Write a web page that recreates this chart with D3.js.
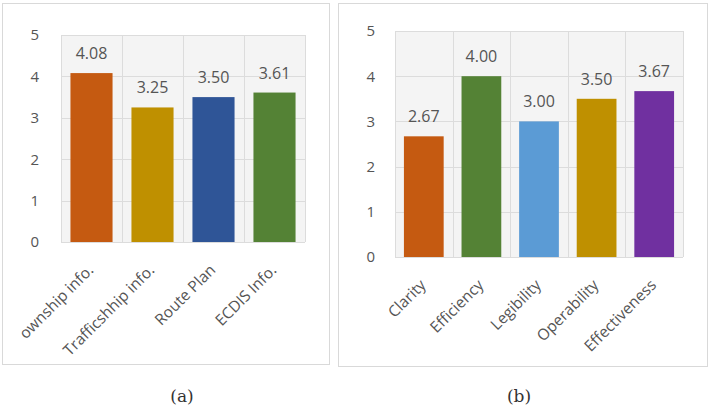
<!DOCTYPE html>
<html>
<head>
<meta charset="utf-8">
<script src="https://cdn.jsdelivr.net/npm/d3@7"></script>
<style>
  body { margin: 0; background: #fff; }
  svg { display: block; }
</style>
</head>
<body>
<svg id="chart" width="716" height="406"></svg>
<script>
// data
var catsA = ["ownship info.", "Trafficshhip info.", "Route Plan", "ECDIS Info."];
var valsA = [4.08, 3.25, 3.50, 3.61];
var colorsA = ["#c55a11", "#bf9000", "#2f5597", "#548235"];

var catsB = ["Clarity", "Efficiency", "Legibility", "Operability", "Effectiveness"];
var valsB = [2.67, 4.00, 3.00, 3.50, 3.67];
var colorsB = ["#c55a11", "#548235", "#5b9bd5", "#bf9000", "#7030a0"];

var yTicks = [0, 1, 2, 3, 4, 5];

var svg = d3.select("#chart");
var font = "'Open Sans', 'Noto Sans', sans-serif";
var textCol = "#555";

var drawPanel = function(p) {
    var x = d3.scaleBand()
        .domain(p.cats)
        .range([p.left, p.right])
        .paddingInner(0.31)
        .paddingOuter(0.155);

    var y = d3.scaleLinear()
        .domain([0, 5])
        .range([p.bottom, p.top]);

    var g = svg.append("g");

    // outer frame
    g.append("rect")
        .attr("x", p.fx0 + 0.5).attr("y", p.fy0 + 0.5)
        .attr("width", p.fx1 - p.fx0).attr("height", p.fy1 - p.fy0)
        .attr("fill", "#fff")
        .attr("stroke", "#d9d9d9");

    // plot background
    g.append("rect")
        .attr("x", p.left).attr("y", p.top)
        .attr("width", p.right - p.left).attr("height", p.bottom - p.top)
        .attr("fill", "#f4f4f4");

    // horizontal gridlines
    g.selectAll(".hgrid")
        .data(yTicks)
        .enter().append("line")
        .attr("x1", p.left).attr("x2", p.right)
        .attr("y1", function(d) { return Math.round(y(d)) + 0.5; })
        .attr("y2", function(d) { return Math.round(y(d)) + 0.5; })
        .attr("stroke", "#dcdcdc");

    // vertical gridlines on band edges
    var edges = p.cats.map(function(c) { return x(c) - x.step() * x.paddingInner() / 2; });
    edges.push(p.right);
    g.selectAll(".vgrid")
        .data(edges)
        .enter().append("line")
        .attr("x1", function(d) { return Math.round(d) + 0.5; })
        .attr("x2", function(d) { return Math.round(d) + 0.5; })
        .attr("y1", p.top).attr("y2", p.bottom)
        .attr("stroke", "#dcdcdc");

    // y axis labels
    var yAxis = d3.axisLeft(y).tickValues(yTicks).tickFormat(d3.format("d"))
        .tickSize(0).tickPadding(p.ypad);
    var ya = g.append("g")
        .attr("transform", "translate(" + p.left + ",0)")
        .call(yAxis);
    ya.select(".domain").remove();
    ya.selectAll("text")
        .attr("fill", textCol)
        .style("font-family", font)
        .style("font-size", "15px");

    // bars
    g.selectAll(".bar")
        .data(p.vals)
        .enter().append("rect")
        .attr("x", function(d, i) { return x(p.cats[i]); })
        .attr("width", x.bandwidth())
        .attr("y", function(d) { return y(d); })
        .attr("height", function(d) { return y(0) - y(d); })
        .attr("fill", function(d, i) { return p.colors[i]; });

    // value labels
    g.selectAll(".val")
        .data(p.vals)
        .enter().append("text")
        .attr("x", function(d, i) { return x(p.cats[i]) + x.bandwidth() / 2; })
        .attr("y", function(d) { return y(d) - 14; })
        .attr("text-anchor", "middle")
        .attr("fill", textCol)
        .style("font-family", font)
        .style("font-size", "16px")
        .text(function(d) { return d.toFixed(2); });

    // rotated category labels
    g.selectAll(".cat")
        .data(p.cats)
        .enter().append("text")
        .attr("transform", function(d) {
            return "translate(" + (x(d) + x.bandwidth() / 2 + 3) + "," + (p.bottom + 29) + ") rotate(-45)";
        })
        .attr("text-anchor", "end")
        .attr("fill", textCol)
        .style("font-family", font)
        .style("font-size", "15.5px")
        .text(function(d) { return d; });

    // caption
    svg.append("text")
        .attr("x", p.capX).attr("y", 402)
        .attr("text-anchor", "middle")
        .attr("fill", "#333")
        .style("font-family", "'DejaVu Serif', 'Liberation Serif', serif")
        .style("font-size", "17px")
        .text(p.caption);
};

drawPanel({
    cats: catsA, vals: valsA, colors: colorsA,
    left: 61, right: 305, top: 35, bottom: 242,
    fx0: 2, fx1: 329, fy0: 3, fy1: 364,
    ypad: 22, capX: 182, caption: "(a)"
});

drawPanel({
    cats: catsB, vals: valsB, colors: colorsB,
    left: 395, right: 683, top: 31, bottom: 257,
    fx0: 338, fx1: 707, fy0: 3, fy1: 366,
    ypad: 20, capX: 519, caption: "(b)"
});
</script>
</body>
</html>
